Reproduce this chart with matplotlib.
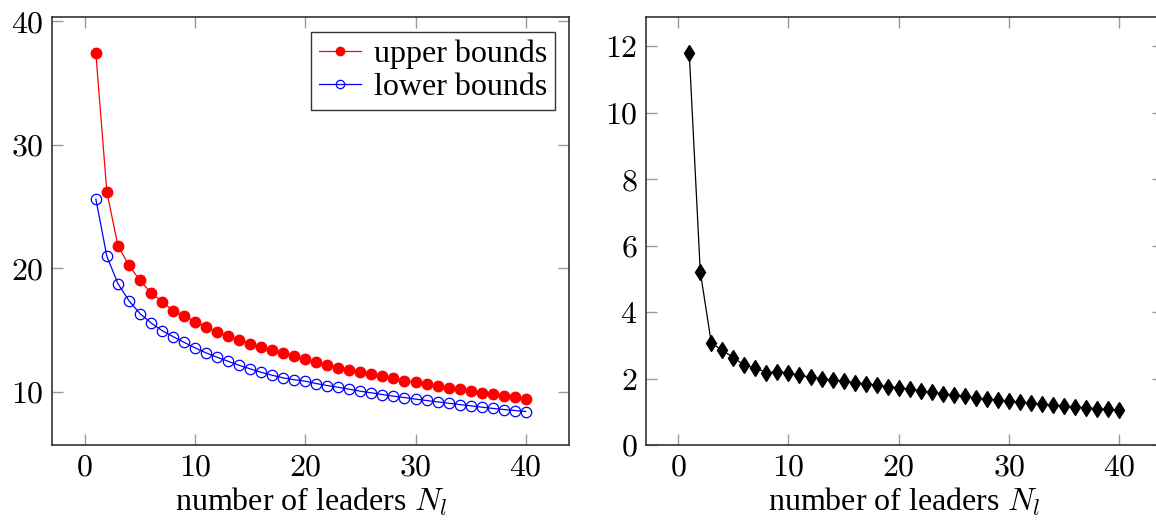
import matplotlib
matplotlib.use("Agg")
import matplotlib.pyplot as plt
from matplotlib.ticker import FuncFormatter

plt.rcParams['font.family'] = ['Liberation Serif', 'DejaVu Serif']
plt.rcParams['mathtext.fontset'] = 'cm'

# number of leaders
leaders = list(range(1, 41))

upper_bounds = [37.4, 26.17, 21.83, 20.24, 19.02, 18.03, 17.3, 16.57, 16.15, 15.68,
                15.25, 14.85, 14.5, 14.17, 13.9, 13.6, 13.36, 13.13, 12.9, 12.67,
                12.4, 12.17, 11.96, 11.76, 11.59, 11.43, 11.26, 11.08, 10.91, 10.76,
                10.62, 10.46, 10.32, 10.19, 10.05, 9.92, 9.79, 9.66, 9.56, 9.46]

lower_bounds = [25.6, 20.96, 18.76, 17.38, 16.33, 15.58, 14.96, 14.47, 14.01, 13.56,
                13.15, 12.8, 12.47, 12.15, 11.86, 11.58, 11.34, 11.13, 10.98, 10.86,
                10.67, 10.51, 10.37, 10.21, 10.05, 9.92, 9.78, 9.65, 9.54, 9.41,
                9.3, 9.19, 9.08, 8.97, 8.87, 8.76, 8.66, 8.57, 8.49, 8.41]

ratio = [11.8, 5.22, 3.07, 2.85, 2.63, 2.4, 2.32, 2.18, 2.2, 2.17,
         2.1, 2.04, 2.0, 1.95, 1.93, 1.88, 1.84, 1.8, 1.76, 1.72,
         1.68, 1.63, 1.58, 1.54, 1.5, 1.46, 1.42, 1.38, 1.35, 1.32,
         1.29, 1.26, 1.22, 1.19, 1.16, 1.14, 1.12, 1.09, 1.07, 1.05]

W, H = 1156, 525
fig = plt.figure(figsize=(W / 100, H / 100), dpi=100)
ax1 = fig.add_axes([52.3 / W, (H - 445) / H, 517 / W, 427.7 / H])
# right panel runs past the figure edge, as in the reference crop
ax2 = fig.add_axes([645.7 / W, (H - 445) / H, 517 / W, 427.7 / H])

fs = 23
mathfmt = FuncFormatter(lambda v, p: r'$%g$' % v)

for ax in (ax1, ax2):
    ax.set_xlim(-2.95, 43.95)
    ax.set_xticks([0, 10, 20, 30, 40])
    ax.tick_params(direction='in', length=8, width=1, color='#999999',
                   top=True, right=True, labelsize=fs, pad=6)
    ax.xaxis.set_major_formatter(mathfmt)
    ax.yaxis.set_major_formatter(mathfmt)
    for s in ax.spines.values():
        s.set_linewidth(1.2)
        s.set_color('#333333')
    ax.set_xlabel(r'number of leaders $N_l$', fontsize=fs, labelpad=2)

ax1.plot(leaders, upper_bounds, color='red', lw=0.9, marker='o', markersize=7.5,
         markerfacecolor='red', markeredgecolor='red', label='upper bounds')
ax1.plot(leaders, lower_bounds, color='blue', lw=0.9, marker='o', markersize=7.5,
         markerfacecolor='none', markeredgecolor='blue', markeredgewidth=0.9,
         label='lower bounds')
ax1.set_ylim(5.7, 40.3)
ax1.set_yticks([10, 20, 30, 40])
leg = ax1.legend(loc='upper right', fontsize=fs, frameon=True, fancybox=False,
                 handlelength=1.3, handletextpad=0.4, borderpad=0.25,
                 labelspacing=0.1, markerscale=0.8, borderaxespad=0.45)
leg.get_frame().set_edgecolor('black')
leg.get_frame().set_linewidth(1.0)

ax2.plot(leaders, ratio, color='black', lw=0.9, marker='d', markersize=8.5,
         markerfacecolor='black', markeredgecolor='black')
ax2.set_ylim(0, 12.87)
ax2.set_yticks([0, 2, 4, 6, 8, 10, 12])

fig.savefig('out.png', dpi=100)
